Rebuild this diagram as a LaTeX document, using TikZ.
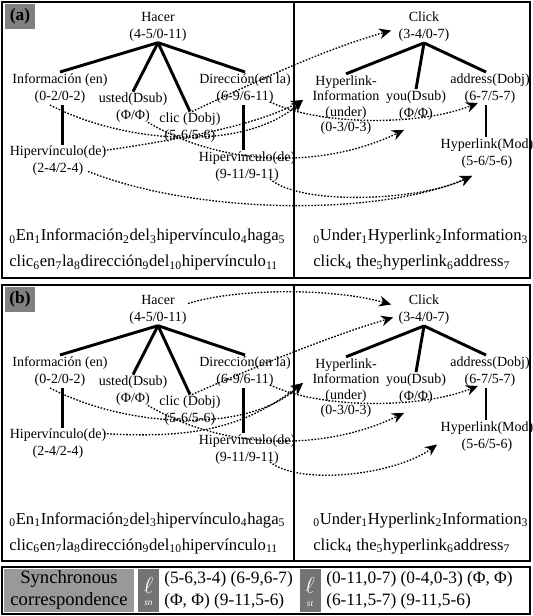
\documentclass[tikz,border=0pt]{standalone}
\usepackage{fontspec}
\setmainfont{Liberation Serif}
\usetikzlibrary{arrows.meta,calc}
\newcommand\sbs[1]{\textsubscript{#1}}
\tikzset{
  lbl/.style={align=center,font=\fontsize{10.5}{12.75}\selectfont,inner sep=1pt},
  tree/.style={line width=2.2pt},
  corr/.style={line width=1pt,dash pattern=on 1.2pt off 1.2pt,-{Stealth[length=9pt,width=8pt]}},
  sent/.style={anchor=base west,font=\fontsize{12.5}{14}\selectfont,inner sep=0pt},
  panel/.style={line width=1.3pt},
  tag/.style={fill=black!50,minimum width=22pt,minimum height=18.5pt,font=\bfseries\fontsize{13}{13}\selectfont,inner sep=0pt},
  pair/.style={anchor=base west,font=\fontsize{13}{15}\selectfont,inner sep=0pt},
  ellbox/.style={fill=black!55,minimum width=15.75pt,minimum height=32pt,inner sep=0pt},
  ellmark/.style={text=white,inner sep=0pt,font=\fontsize{18}{18}\selectfont},
  ellsub/.style={text=white,inner sep=0pt,font=\fontsize{7}{7}\selectfont\itshape},
}
\newcommand\drawtreepanel[3]{%
\begin{scope}[shift={(0,#2)}]
\draw[panel] (2,2) rectangle (530,278);
\draw[panel] (294,2) -- (294,278);
\node[tag] (tag#1) at (20,16.5) {(#3)};
\node[lbl] (hacer#1) at (158,26.5) {Hacer\\(4-5/0-11)};
\node[lbl] (info#1) at (60,88.5) {Información (en)\\(0-2/0-2)};
\node[lbl] (usted#1) at (133,108) {usted(Dsub)\\(Φ/Φ)};
\node[lbl] (clic#1) at (190,128) {clic (Dobj)\\(5-6/5-6)};
\node[lbl] (dir#1) at (245,88.5) {Dirección(en la)\\(6-9/6-11)};
\node[lbl] (hipL#1) at (58,161) {Hipervínculo(de)\\(2-4/2-4)};
\node[lbl] (hipR#1) at (247,166.5) {Hipervínculo(de)\\(9-11/9-11)};
\node[lbl] (click#1) at (424,26.5) {Click\\(3-4/0-7)};
\node[lbl,font=\fontsize{10.5}{11.6}\selectfont] (hi#1) at (346,105) {Hyperlink-\\Information\\(under)\\(0-3/0-3)};
\node[lbl] (you#1) at (416,105.5) {you(Dsub)\\(Φ/Φ)};
\node[lbl] (addr#1) at (490,88.5) {address(Dobj)\\(6-7/5-7)};
\node[lbl] (hmod#1) at (487,153.5) {Hyperlink(Mod)\\(5-6/5-6)};
\node[sent] (sl1#1) at (9,241) {\sbs{0}En\sbs{1}Información\sbs{2}del\sbs{3}hipervínculo\sbs{4}haga\sbs{5}};
\node[sent] (sl2#1) at (9,267) {clic\sbs{6}en\sbs{7}la\sbs{8}dirección\sbs{9}del\sbs{10}hipervínculo\sbs{11}};
\node[sent] (sr1#1) at (313,241) {\sbs{0}Under\sbs{1}Hyperlink\sbs{2}Information\sbs{3}};
\node[sent] (sr2#1) at (313,267) {click\sbs{4} the\sbs{5}hyperlink\sbs{6}address\sbs{7}};
\end{scope}
\draw[tree] (hacer#1.south) -- (info#1.north);
\draw[tree] (hacer#1.south) -- (usted#1.north);
\draw[tree] (hacer#1.south) -- (clic#1.north);
\draw[tree] (hacer#1.south) -- (dir#1.north);
\draw[tree] ([xshift=2pt]info#1.south) -- ([xshift=2pt]info#1.south |- hipL#1.north);
\draw[tree] ([xshift=-1pt]dir#1.south) -- ([xshift=-1pt]dir#1.south |- hipR#1.north);
\draw[tree] (click#1.south) -- (hi#1.north);
\draw[tree] (click#1.south) -- (you#1.north);
\draw[tree] (click#1.south) -- ([xshift=-3pt]addr#1.north);
\draw[tree] ([xshift=-3pt]addr#1.south) -- ([xshift=-3pt]addr#1.south |- hmod#1.north);
% common correspondences
\draw[corr] ($(info#1.south)+(-10,0)$) .. controls +(80,41) and +(-56,50) .. ($(hi#1.west)+(-8,-5)$);
\draw[corr] ($(usted#1.south)+(15,-2)$) .. controls +(82,48) and +(-74,36) .. ($(you#1.south)+(-12,8)$);
\draw[corr] ($(dir#1.south)+(25,-3)$) .. controls +(50,24) and +(-58,23) .. ($(addr#1.south)+(-12,-2)$);
}
\begin{document}
\begin{tikzpicture}[x=0.75pt,y=-0.75pt]
\useasboundingbox (0,0) rectangle (532,616);
\drawtreepanel{a}{0}{a}
\drawtreepanel{b}{283}{b}
% panel (a) specific
\draw[corr] ($(clica.north)+(2,0)$) .. controls +(58,-27) and +(-71,20) .. ($(clicka.west)+(-6,4)$);
\draw[corr] ($(hipLa.north east)+(-4,6)$) .. controls +(76,-11) and +(-46,25) .. ($(hia.west)+(-8,-5)$);
\draw[corr] ($(hipRa.south)+(23,-4)$) .. controls +(30,27) and +(-52,25) .. ($(hmoda.south)+(-15,6)$);
\draw[corr] ($(hipLa.south)+(30,-6)$) .. controls +(112,44) and +(-92,40) .. ($(hmoda.south)+(-15,6)$);
% panel (b) specific
\draw[corr] ($(hacerb.east)+(0,-6)$) .. controls +(49,-15.5) and +(-58,-16.5) .. ($(clickb.west)+(-6,-5)$);
\draw[corr] ($(clicb.north)+(2,0)$) .. controls +(68,-30) and +(-60,17.5) .. ($(clickb.west)+(-4,8)$);
\draw[corr] ($(hipLb.north east)+(-4,6)$) .. controls +(96,6) and +(-56,42) .. ($(hib.west)+(-8,-5)$);
\draw[corr] ($(hipRb.south)+(23,-4)$) .. controls +(30,24) and +(-42,30.5) .. ($(hmodb.west)+(-2,8)$);
% bottom row
\draw[panel] (2,567) rectangle (530,614);
\node[fill=black!40,minimum width=97.5pt,minimum height=32pt,inner sep=0pt,align=center,font=\fontsize{14}{16.5}\selectfont] (sync) at (69,590.5) {Synchronous\\correspondence};
\node[ellbox] (lsn) at (148.5,590.5) {};
\node[ellmark] at ([yshift=4pt]lsn.center) {$\ell$};
\node[ellsub] at ([yshift=-10pt]lsn.center) {sn};
\node[ellbox] (lst) at (310,590.5) {};
\node[ellmark] at ([yshift=4pt]lst.center) {$\ell$};
\node[ellsub] at ([yshift=-10pt]lst.center) {st};
\node[pair] (p1) at (164,583) {(5-6,3-4) (6-9,6-7)};
\node[pair] (p2) at (164,605) {(Φ, Φ) (9-11,5-6)};
\node[pair] (p3) at (326,583) {(0-11,0-7) (0-4,0-3) (Φ, Φ)};
\node[pair] (p4) at (326,605) {(6-11,5-7) (9-11,5-6)};
\end{tikzpicture}
\end{document}
